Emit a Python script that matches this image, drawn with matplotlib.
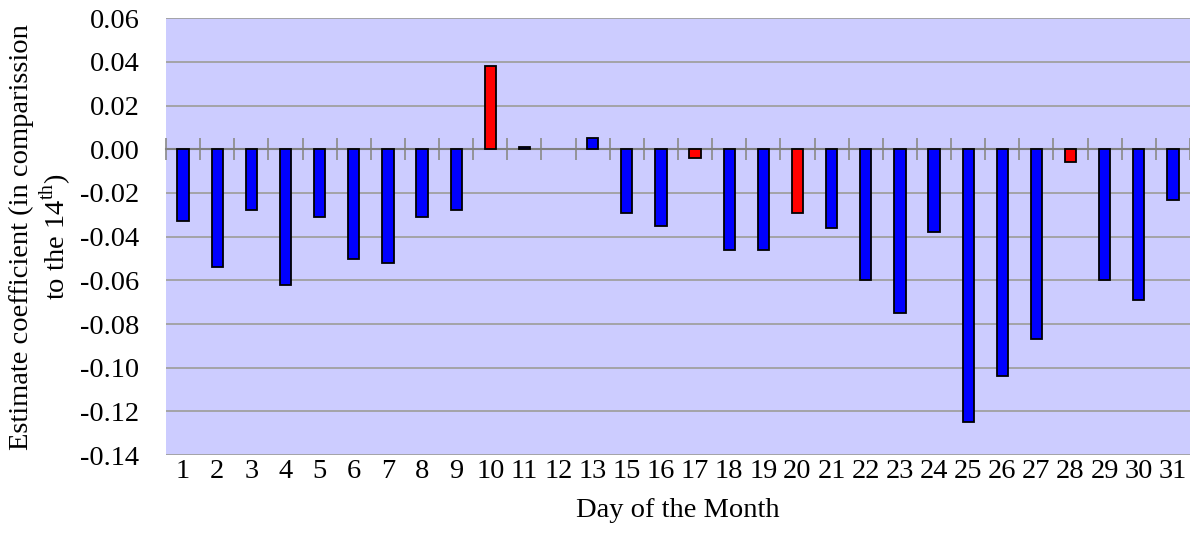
import matplotlib
matplotlib.use("Agg")
import matplotlib.pyplot as plt
import numpy as np

days = ["1", "2", "3", "4", "5", "6", "7", "8", "9", "10", "11", "12", "13",
        "15", "16", "17", "18", "19", "20", "21", "22", "23", "24", "25",
        "26", "27", "28", "29", "30", "31"]
coef = [-0.033, -0.054, -0.028, -0.062, -0.031, -0.050, -0.052, -0.031,
        -0.028, 0.038, 0.001, 0.0, 0.005, -0.029, -0.035, -0.004, -0.046,
        -0.046, -0.029, -0.036, -0.060, -0.075, -0.038, -0.125, -0.104,
        -0.087, -0.006, -0.060, -0.069, -0.023]
highlight = ["10", "17", "20", "28"]

plt.rcParams["font.family"] = ["Liberation Serif", "DejaVu Serif"]
plt.rcParams["mathtext.fontset"] = "custom"
plt.rcParams["mathtext.rm"] = "Liberation Serif"
FS = 20.5

fig = plt.figure(figsize=(11.9, 5.51), dpi=100)
ax = fig.add_axes([0.1395, 0.174, 0.8605, 0.793])
ax.set_facecolor("#CCCCFF")

x = np.arange(len(days))
colors = ["#FF0000" if d in highlight else "#0000FF" for d in days]
# a zero-height bar draws nothing in the original
lws = [1.3 if v != 0 else 0 for v in coef]
ax.bar(x, coef, width=0.33, color=colors, edgecolor="black", linewidth=lws, zorder=3)

ax.set_xlim(-0.5, len(days) - 0.5)
ax.set_ylim(-0.14, 0.06)
yt = np.arange(-0.14, 0.0601, 0.02)
ax.set_yticks(yt)
ax.set_yticklabels([f"{v:.2f}" for v in yt], fontsize=FS)
ax.grid(axis="y", color="#A0A0A0", linewidth=1.3, zorder=1)
ax.tick_params(axis="y", length=0, pad=19)

for s in ["left", "right", "top"]:
    ax.spines[s].set_visible(False)
# category axis crosses at zero with Excel-style tick marks between categories
ax.spines["bottom"].set_position(("data", 0))
ax.spines["bottom"].set_color("#808080")
ax.spines["bottom"].set_linewidth(1.5)
ax.spines["bottom"].set_zorder(2)
ax.set_xticks(np.arange(-0.5, len(days), 1.0))
ax.tick_params(axis="x", direction="inout", length=16, width=1.3, color="#909090",
               labelbottom=False)

sec = ax.secondary_xaxis(0.0)
sec.set_xticks(x)
sec.set_xticklabels(days, fontsize=FS)
sec.tick_params(length=0, pad=3)
sec.spines["bottom"].set_visible(False)
sec.set_xlabel("Day of the Month", fontsize=FS, labelpad=10)

ax.set_ylabel("Estimate coefficient (in comparission\nto the 14$^{\\mathrm{th}}$)",
              fontsize=FS, linespacing=1.15, labelpad=5)

fig.savefig("out.png", dpi=100)
